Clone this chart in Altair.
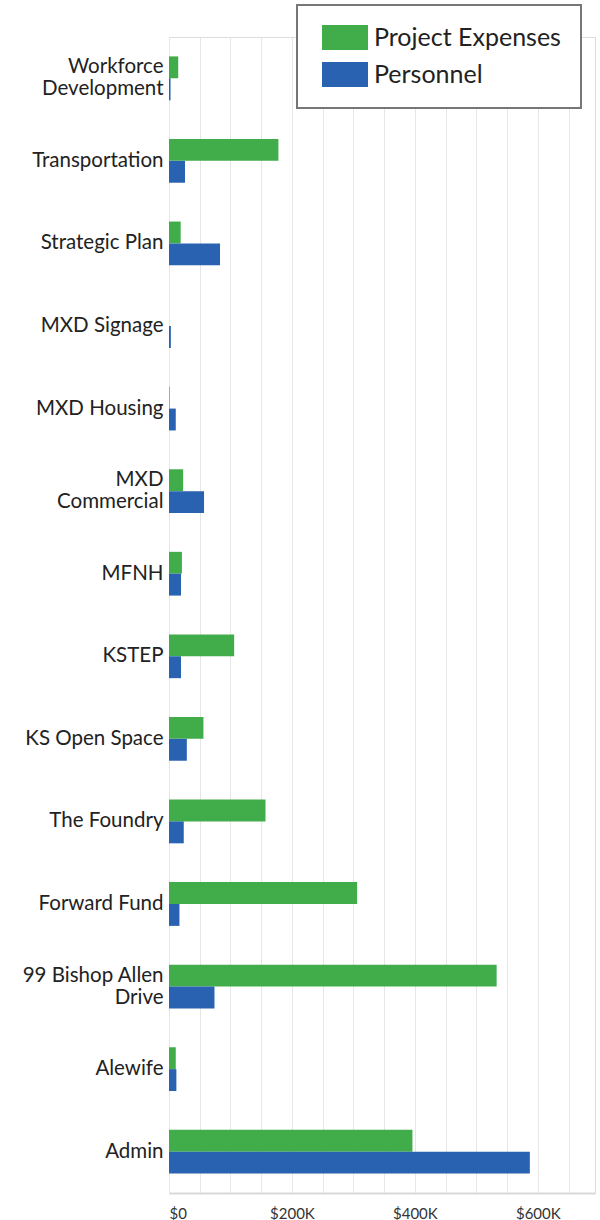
import altair as alt
import pandas as pd

categories = ["Workforce Development", "Transportation", "Strategic Plan", "MXD Signage",
              "MXD Housing", "MXD Commercial", "MFNH", "KSTEP", "KS Open Space",
              "The Foundry", "Forward Fund", "99 Bishop Allen Drive", "Alewife", "Admin"]
project_expenses = [15000, 178000, 19000, 0, 1000, 23000, 21000, 106000, 56000,
                    157000, 306000, 533000, 11000, 396000]
personnel = [2500, 26000, 83000, 3000, 11000, 57000, 19500, 19500, 29000,
             24000, 17000, 74000, 12000, 587000]
series = ["Project Expenses", "Personnel"]
colors = ["#41AD4A", "#2862B0"]
grid_values = [0, 50000, 100000, 150000, 200000, 250000, 300000, 350000,
               400000, 450000, 500000, 550000, 600000, 650000]

rows = []
for c, p, q in zip(categories, project_expenses, personnel):
    rows.append({"category": c, "series": series[0], "value": p})
    rows.append({"category": c, "series": series[1], "value": q})
df = pd.DataFrame(rows)

label_expr = (
    "datum.label == 'Workforce Development' ? ['Workforce', 'Development'] : "
    "datum.label == 'MXD Commercial' ? ['MXD', 'Commercial'] : "
    "datum.label == '99 Bishop Allen Drive' ? ['99 Bishop Allen', 'Drive'] : datum.label"
)
two_line_test = ("datum.value == 'Workforce Development' || datum.value == 'MXD Commercial' "
                 "|| datum.value == '99 Bishop Allen Drive'")

FONT = "Lato"

chart = alt.Chart(df).mark_bar().encode(
    y=alt.Y("category:N", sort=categories,
            scale=alt.Scale(paddingInner=0.47, paddingOuter=0.235),
            axis=alt.Axis(title=None, domain=False, ticks=False, labelPadding=6,
                          labelFontSize=20.5, labelColor="#222", labelFont=FONT,
                          labelLineHeight=22, labelExpr=label_expr, labelLimit=200,
                          labelOffset={"condition": {"test": two_line_test, "value": -11},
                                       "value": 0})),
    yOffset=alt.YOffset("series:N", sort=series, scale=alt.Scale(domain=series)),
    x=alt.X("value:Q", scale=alt.Scale(domain=[0, 693000], nice=False),
            axis=alt.Axis(title=None, values=grid_values, ticks=False,
                          labelExpr="datum.value % 200000 == 0 ? (datum.value == 0 ? '$0' : '$' + (datum.value/1000) + 'K') : ''",
                          labelFontSize=15, labelColor="#333", labelFont=FONT,
                          labelPadding=13, domainColor="#d9d9d9", domainWidth=2,
                          gridColor="#e6e6e6", gridWidth=1)),
    color=alt.Color("series:N", sort=series,
                    scale=alt.Scale(domain=series, range=colors),
                    legend=alt.Legend(title=None, orient="none", legendX=128, legendY=-32,
                                      symbolType="M-1,-1L2.68,-1L2.68,1L-1,1Z",
                                      symbolSize=625, symbolOffset=5, labelOffset=27,
                                      labelFontSize=25, labelFont=FONT, labelColor="#222",
                                      labelLimit=400,
                                      rowPadding=11, padding=20,
                                      strokeColor="#777",
                                      fillColor="white", symbolStrokeWidth=0,
                                      symbolOpacity=1)),
).properties(
    width=426, height=1156,
    autosize=alt.AutoSizeParams(type="none"),
    padding={"left": 169, "top": 37, "right": 5, "bottom": 27},
).configure_view(stroke=None).configure(background="white").configure_legend(strokeWidth=2)

chart.save("out.html", embed_options={"renderer": "svg", "actions": False})
